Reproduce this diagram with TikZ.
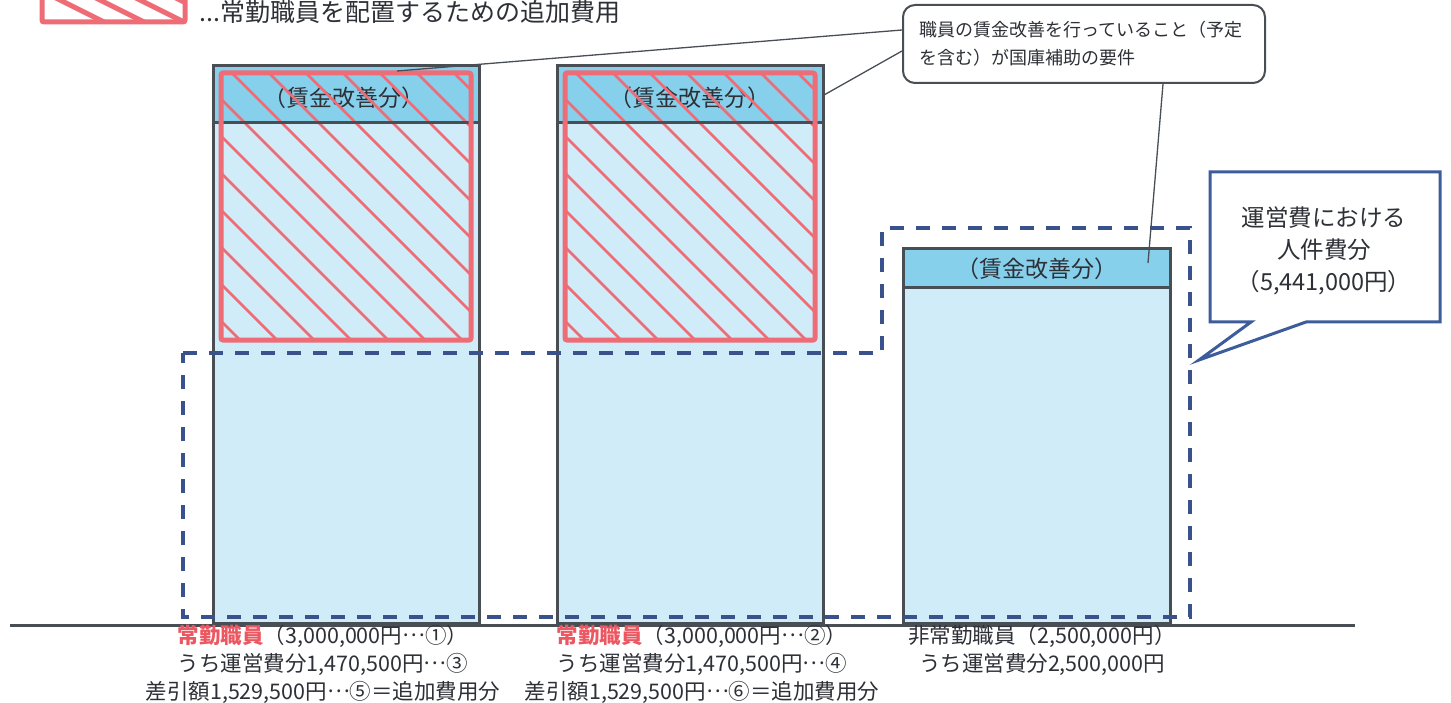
\documentclass[tikz,border=0pt]{standalone}
\usepackage{fontspec}
\setmainfont{Noto Sans CJK JP}
\definecolor{bandblue}{RGB}{135,208,236}
\definecolor{lightblue}{RGB}{208,236,248}
\definecolor{barline}{RGB}{72,78,84}
\definecolor{hatchred}{RGB}{238,108,118}
\definecolor{labelred}{RGB}{236,88,98}
\definecolor{dashblue}{RGB}{58,82,140}
\definecolor{txtgray}{RGB}{45,48,54}
\definecolor{calloutblue}{RGB}{60,92,156}
\newcommand{\mydots}{\raisebox{0.3em}{…}}
\tikzset{
  barbox/.style={draw=barline, line width=3pt},
  hatchline/.style={draw=hatchred, line width=2.6pt},
  redframe/.style={draw=hatchred, line width=5pt, rounded corners=2pt},
  bandtext/.style={text=txtgray, font=\fontsize{23}{26}\selectfont},
  labeltext/.style={text=txtgray, align=center, font=\fontsize{21.5}{28}\selectfont},
  conn/.style={draw=barline, line width=1.3pt},
  outline/.style={draw=dashblue, line width=3.5pt, dash pattern=on 14pt off 12pt}
}
\begin{document}
\begin{tikzpicture}[x=1pt,y=-1pt]
\useasboundingbox (0,0) rectangle (1451,703);

% ---------- legend ----------
\begin{scope}
  \clip (42,-12) rectangle (185,22);
  \fill[white] (42,-12) rectangle (185,22);
  \foreach \k in {0,...,5}
    \draw[draw=hatchred, line width=5pt] ({20+40*\k},-20) -- ({120+40*\k},30);
\end{scope}
\draw[redframe] (42,-12) rectangle (185,22);
\node[anchor=west, text=txtgray, font=\fontsize{25}{28}\selectfont, inner sep=0pt] (legendtext) at (199,12) {...常勤職員を配置するための追加費用};

% ---------- bar 1 ----------
\fill[lightblue] (213,66) rectangle (479,623);
\fill[bandblue] (213,66) rectangle (479,123);
\node[bandtext] (band1) at (344,98) {（賃金改善分）};
\begin{scope}
  \clip (221,73) rectangle (471,340);
  \foreach \k in {-8,...,7}
    \draw[hatchline] ({159+37*\k},0) -- ({859+37*\k},700);
\end{scope}
\draw[barline, line width=3pt] (213,123) -- (479,123);
\draw[redframe] (221,73) rectangle (471,340);
\draw[barbox] (213,66) rectangle (479,623);

% ---------- bar 2 ----------
\fill[lightblue] (557,66) rectangle (823,623);
\fill[bandblue] (557,66) rectangle (823,123);
\node[bandtext] (band2) at (690,98) {（賃金改善分）};
\begin{scope}
  \clip (565,73) rectangle (815,340);
  \foreach \k in {-8,...,7}
    \draw[hatchline] ({503+37*\k},0) -- ({1203+37*\k},700);
\end{scope}
\draw[barline, line width=3pt] (557,123) -- (823,123);
\draw[redframe] (565,73) rectangle (815,340);
\draw[barbox] (557,66) rectangle (823,623);

% ---------- bar 3 ----------
\fill[lightblue] (903,249) rectangle (1170,623);
\fill[bandblue] (903,249) rectangle (1170,288);
\node[bandtext] (band3) at (1037,269) {（賃金改善分）};
\draw[barline, line width=3pt] (903,288) -- (1170,288);
\draw[barbox] (903,249) rectangle (1170,623);

% ---------- baseline ----------
\draw[barline, line width=3pt] (10,625) -- (1355,625);

% ---------- dashed outline ----------
\draw[outline] (183,353) -- (882,353) -- (882,228) -- (1190,228) -- (1190,617) -- (183,617) -- cycle;

% ---------- callout 1 ----------
\node[draw=barline, line width=2pt, rounded corners=12pt, fill=white,
      minimum width=362pt, minimum height=78pt, inner xsep=16pt,
      text width=330pt, align=left, text=txtgray,
      font=\fontsize{18}{28}\selectfont] (note) at (1084,44)
  {職員の賃金改善を行っていること（予定\\を含む）が国庫補助の要件};
\coordinate (e1) at (397,71);
\coordinate (e2) at (824,95);
\coordinate (e3) at (1148,263);
\draw[conn] ([yshift=14pt]note.west) -- (e1);
\draw[conn] ([yshift=-7pt]note.west) -- (e2);
\draw[conn] ([xshift=79pt]note.south) -- (e3);

% ---------- callout 2 ----------
\coordinate (btip) at (1199,360);
\draw[draw=calloutblue, line width=3pt, fill=white, line join=miter]
  (1210,172) -- (1440,172) -- (1440,322) -- (1306,322) -- (btip) -- (1251,322) -- (1210,322) -- cycle;
\node[align=center, text=txtgray, font=\fontsize{23.5}{32}\selectfont] (bubble) at (1324,251)
  {運営費における\\人件費分\\（5,441,000円）};

% ---------- bottom labels ----------
\node[labeltext] (lab1) at (323,664)
  {\textcolor{labelred}{\bfseries 常勤職員}（3,000,000円\mydots①）\\うち運営費分1,470,500円\mydots③\\差引額1,529,500円\mydots⑤＝追加費用分};
\node[labeltext] (lab2) at (702,664)
  {\textcolor{labelred}{\bfseries 常勤職員}（3,000,000円\mydots②）\\うち運営費分1,470,500円\mydots④\\差引額1,529,500円\mydots⑥＝追加費用分};
\node[labeltext] (lab3) at (1042,650)
  {非常勤職員（2,500,000円）\\うち運営費分2,500,000円};
\end{tikzpicture}
\end{document}
